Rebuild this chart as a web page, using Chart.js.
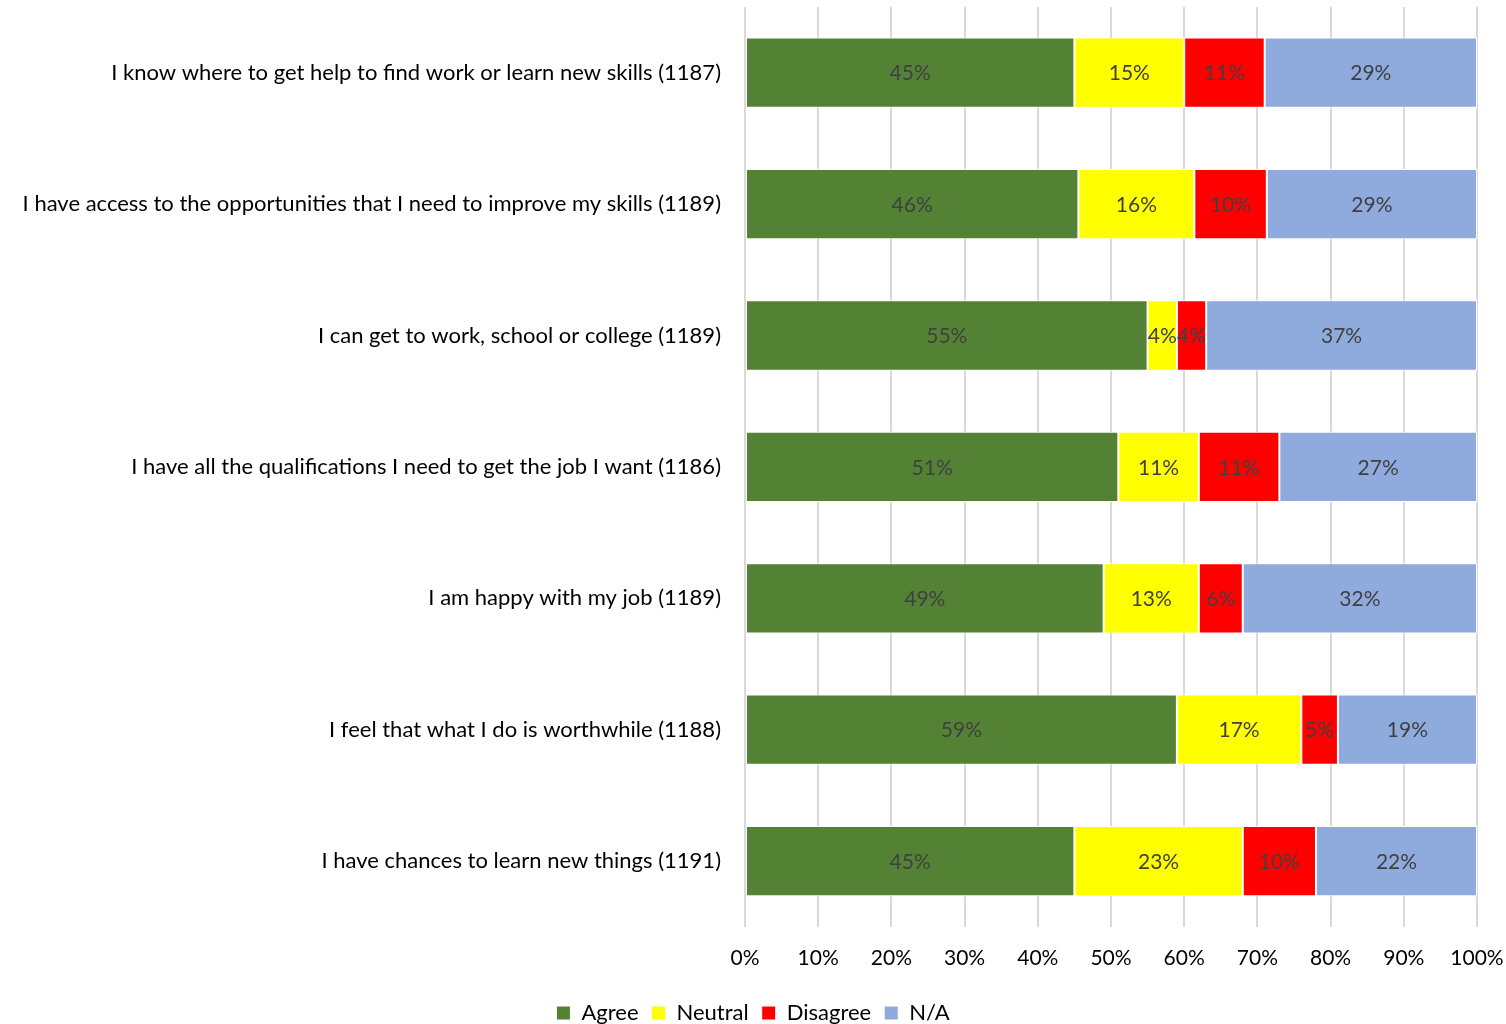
<!DOCTYPE html>
<html>
<head>
<meta charset="utf-8">
<title>Work and skills survey</title>
<script src="https://cdn.jsdelivr.net/npm/chart.js@4/dist/chart.umd.min.js"></script>
<style>
  html, body { margin: 0; padding: 0; background: #ffffff; }
  #wrap { width: 1506px; height: 1024px; }
</style>
</head>
<body>
<div id="wrap"><canvas id="chart" width="1506" height="1024"></canvas></div>
<script>
// Survey statements (response counts in brackets)
const categories = [
  "I know where to get help to find work or learn new skills (1187)",
  "I have access to the opportunities that I need to improve my skills (1189)",
  "I can get to work, school or college (1189)",
  "I have all the qualifications I need to get the job I want (1186)",
  "I am happy with my job (1189)",
  "I feel that what I do is worthwhile (1188)",
  "I have chances to learn new things (1191)"
];

// Share of responses per statement, in percent
const agree    = [45, 46, 55, 51, 49, 59, 45];
const neutral  = [15, 16,  4, 11, 13, 17, 23];
const disagree = [11, 10,  4, 11,  6,  5, 10];
const notApplicable = [29, 29, 37, 27, 32, 19, 22];

const seriesNames = ["Agree", "Neutral", "Disagree", "N/A"];
const xTickValues = [0, 10, 20, 30, 40, 50, 60, 70, 80, 90, 100];

const FONT = "Lato, 'Open Sans', sans-serif";
const seriesValues = [agree, neutral, disagree, notApplicable];
const seriesColors = ["#548235", "#FFFF00", "#FF0000", "#8FAADC"];

// Each statement is stacked to a full 100% bar
const rowTotals = categories.map((_, i) =>
  seriesValues.reduce((s, arr) => s + arr[i], 0));

const datasets = seriesValues.map((vals, k) => ({
  label: seriesNames[k],
  data: vals.map((v, i) => v * 100 / rowTotals[i]),
  shown: vals,
  backgroundColor: seriesColors[k],
  borderColor: "#ffffff",
  borderWidth: 1,
  borderSkipped: false,
  categoryPercentage: 1.0,
  barPercentage: 0.535
}));

// Writes the percentage in the middle of every segment
const segmentLabels = {
  id: "segmentLabels",
  afterDatasetsDraw(chart) {
    const ctx = chart.ctx;
    ctx.save();
    ctx.font = "21px " + FONT;
    ctx.fillStyle = "#404040";
    ctx.textAlign = "center";
    ctx.textBaseline = "middle";
    chart.data.datasets.forEach((ds, di) => {
      const meta = chart.getDatasetMeta(di);
      meta.data.forEach((bar, i) => {
        const cx = (bar.x + bar.base) / 2;
        ctx.fillText(ds.shown[i] + "%", cx, bar.y + 1);
      });
    });
    ctx.restore();
  }
};

new Chart(document.getElementById("chart"), {
  type: "bar",
  data: { labels: categories, datasets },
  options: {
    indexAxis: "y",
    responsive: false,
    animation: false,
    layout: { padding: { left: 0, right: 0, top: 7, bottom: -10 } },
    scales: {
      x: {
        stacked: true,
        min: 0,
        max: 100,
        afterBuildTicks(scale) {
          scale.ticks = xTickValues.map(v => ({ value: v }));
        },
        afterFit(scale) {
          scale.paddingRight = 29;
        },
        grid: { color: "#d9d9d9", lineWidth: 2, drawTicks: false },
        border: { display: false },
        ticks: {
          padding: 18.5,
          color: "#000000",
          font: { family: FONT, size: 21 },
          callback: v => v + "%"
        }
      },
      y: {
        stacked: true,
        afterFit(scale) {
          scale.width = 745;
          scale.paddingTop = 0;
          scale.paddingBottom = 0;
        },
        grid: { display: false, drawTicks: false },
        border: { display: false },
        ticks: {
          padding: 24,
          color: "#000000",
          font: { family: FONT, size: 22 }
        }
      }
    },
    plugins: {
      legend: {
        position: "bottom",
        labels: {
          boxWidth: 14,
          boxHeight: 14,
          padding: 13,
          color: "#000000",
          font: { family: FONT, size: 22 }
        }
      },
      tooltip: { enabled: false }
    }
  },
  plugins: [segmentLabels]
});
</script>
</body>
</html>
